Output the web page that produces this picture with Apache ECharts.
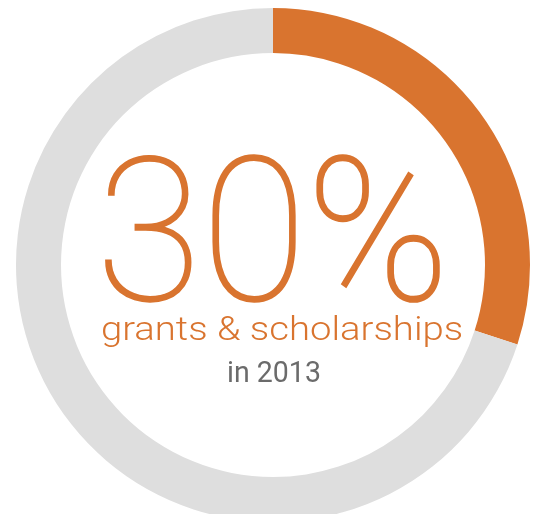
<!DOCTYPE html>
<html><head><meta charset="utf-8">
<script src="https://cdn.jsdelivr.net/npm/echarts@6/dist/echarts.min.js"></script>
<style>html,body{margin:0;padding:0;background:#fff}#c{width:538px;height:514px}</style>
</head><body><div id="c"></div>
<script>
const categories = ['grants & scholarships', 'other'];
const values = [30, 70];
const colors = ['#D9742F', '#DEDEDE'];
const bigLabel = '30%';
const subLabel = 'grants & scholarships';
const yearLabel = 'in 2013';

const chart = echarts.init(document.getElementById('c'));
chart.setOption({
  animation: false,
  series: [{
    type: 'pie',
    center: [273, 265],
    radius: [212, 257],
    startAngle: 90,
    clockwise: true,
    silent: true,
    label: { show: false },
    labelLine: { show: false },
    data: categories.map((c, i) => ({ name: c, value: values[i], itemStyle: { color: colors[i] } }))
  }],
  graphic: [
    { type: 'text', x: 273, y: 150, scaleX: 0.96, style: { text: bigLabel, fill: '#D9742F', stroke: '#D9742F', lineWidth: 1.6, font: '100 200px Roboto', textAlign: 'center', textVerticalAlign: 'top' } },
    { type: 'text', x: 282, y: 332, scaleX: 1.16, style: { text: subLabel, fill: '#D9742F', font: '300 33px Roboto', textAlign: 'center', textVerticalAlign: 'middle' } },
    { type: 'text', x: 274, y: 374, scaleX: 0.95, style: { text: yearLabel, fill: '#6B6B6B', font: '400 30px Roboto', textAlign: 'center', textVerticalAlign: 'middle' } }
  ]
});
</script></body></html>
